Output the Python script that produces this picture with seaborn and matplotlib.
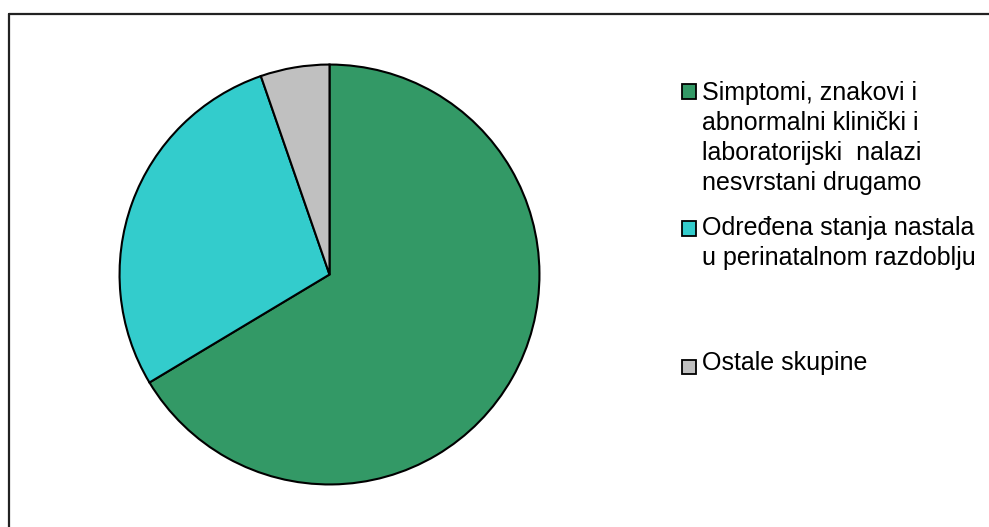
import numpy as np
import matplotlib
matplotlib.use("Agg")
import matplotlib.pyplot as plt
import seaborn as sns
from matplotlib.patches import Rectangle
from matplotlib.lines import Line2D

# podaci o skupinama
labels = ['Simptomi, znakovi i\nabnormalni klinički i\nlaboratorijski  nalazi\nnesvrstani drugamo',
          'Određena stanja nastala\nu perinatalnom razdoblju',
          'Ostale skupine']
values = [66.4, 28.3, 5.3]
colors = ['#339966', '#33CCCC', '#C0C0C0']

sns.set_theme(style="white")
plt.rcParams['font.family'] = ['Liberation Sans', 'DejaVu Sans']

W, H = 989, 527
fig = plt.figure(figsize=(W / 100, H / 100), dpi=100)
fig.patch.set_facecolor('white')

# okvir grafikona (odrezan desno i dolje)
fig.add_artist(Line2D([8.5 / W, 1.0], [1 - 14 / H, 1 - 14 / H], transform=fig.transFigure,
                      color='#222222', lw=1.6))
fig.add_artist(Line2D([8.5 / W, 8.5 / W], [0, 1 - 14 / H], transform=fig.transFigure,
                      color='#222222', lw=1.6))

# pita
cx, cy, r = 329.5, H - 274.5, 211
ax = fig.add_axes([(cx - r) / W, (cy - r) / H, 2 * r / W, 2 * r / H])
ax.pie(values, colors=colors, startangle=90, counterclock=False, radius=1,
       wedgeprops=dict(edgecolor='black', linewidth=1.5))
ax.set_xlim(-1.005, 1.005)
ax.set_ylim(-1.005, 1.005)
ax.axis('off')

# legenda
marker_y = [91, 228, 366]
text_top = [92, 228, 363]
nlines = [4, 2, 1]
pitch = 30.5
for lab, col, my, ty, n in zip(labels, colors, marker_y, text_top, nlines):
    fig.add_artist(Rectangle((681.5 / W, (H - my - 7.5) / H), 14 / W, 14 / H,
                             transform=fig.transFigure, facecolor=col,
                             edgecolor='black', lw=1.3))
    center = ty + (n - 1) * pitch / 2
    fig.text(702 / W, (H - center) / H, lab, ha='left', va='center',
             fontsize=18, color='black', linespacing=1.31)

fig.savefig('out.png', dpi=100, facecolor='white')
